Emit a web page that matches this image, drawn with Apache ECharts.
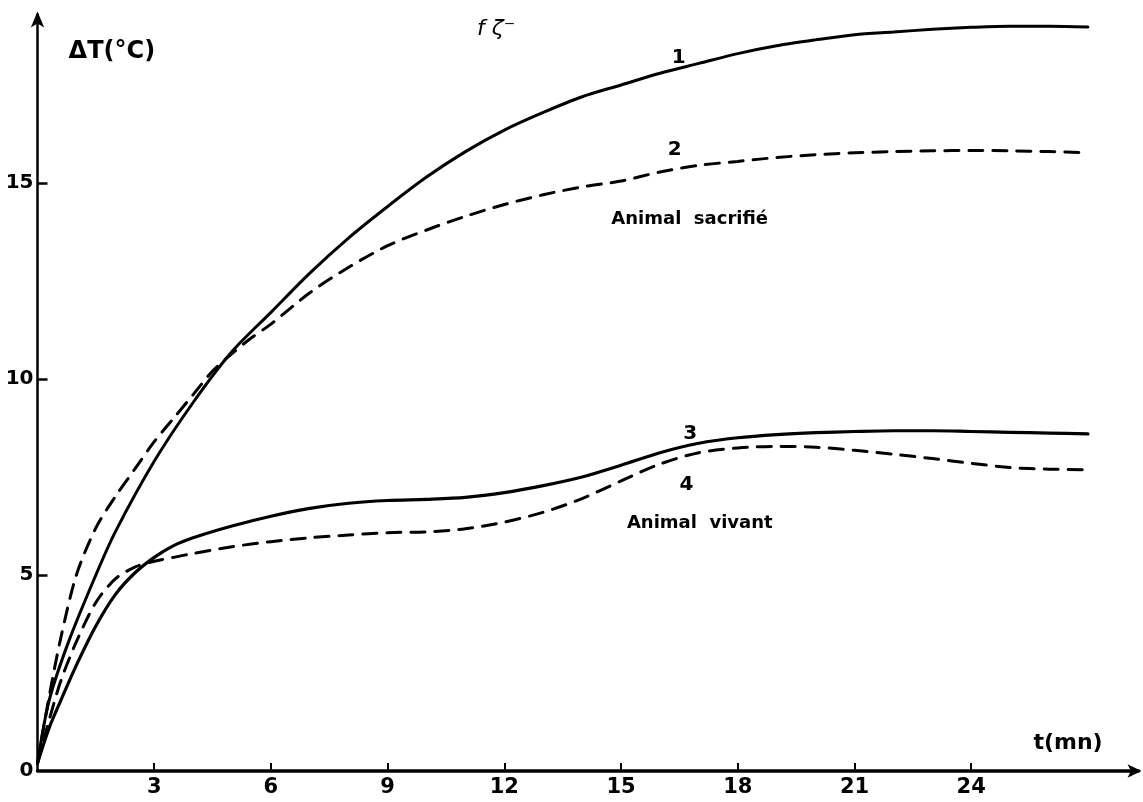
<!DOCTYPE html>
<html>
<head>
<meta charset="utf-8">
<script src="https://cdn.jsdelivr.net/npm/echarts@6/dist/echarts.min.js"></script>
<style>
html,body{margin:0;padding:0;background:#fff;}
#chart{width:1143px;height:802px;}
</style>
</head>
<body>
<div id="chart"></div>
<script>
// time (min)
const t1 = [0,0.3,0.8,1.5,2,3,4,5,6,7,8,9,10,11,12,13,14,15,16,17,18,19,20,21,22,23,24,25,26,27];
const curve1 = [0.2,1.8,3.3,5.0,6.1,7.9,9.4,10.7,11.7,12.7,13.6,14.4,15.15,15.8,16.35,16.8,17.2,17.5,17.8,18.05,18.3,18.5,18.65,18.78,18.85,18.92,18.97,19.0,19.0,18.98];

const t2 = [0,0.3,0.6,1,1.5,2,2.5,3,3.5,4,4.5,5,5.5,6,7,8,9,10,11,12,13,14,15,16,17,18,19,20,21,22,23,24,25,26,27];
const curve2 = [0.2,1.9,3.4,5.0,6.2,7.0,7.7,8.4,9.0,9.6,10.2,10.65,11.05,11.4,12.2,12.85,13.4,13.8,14.15,14.45,14.7,14.9,15.05,15.28,15.45,15.55,15.65,15.72,15.77,15.8,15.82,15.83,15.82,15.8,15.77];

const t3 = [0,0.3,0.6,1,1.5,2,2.5,3,3.5,4,5,6,7,8,9,10,11,12,13,14,15,16,17,18,19,20,21,22,23,24,25,26,27];
const curve3 = [0.2,1.1,1.8,2.7,3.7,4.5,5.05,5.45,5.75,5.95,6.25,6.5,6.7,6.83,6.9,6.93,6.98,7.1,7.28,7.5,7.8,8.12,8.36,8.5,8.58,8.63,8.66,8.68,8.68,8.66,8.64,8.62,8.6];

const t4 = [0,0.3,0.6,1,1.5,2,2.5,3,3.5,4,5,6,7,8,9,10,11,12,13,14,15,16,17,18,19,20,21,22,23,24,25,26,27];
const curve4 = [0.2,1.3,2.3,3.3,4.3,4.9,5.2,5.35,5.45,5.55,5.72,5.85,5.95,6.02,6.08,6.1,6.18,6.35,6.6,6.95,7.4,7.83,8.12,8.24,8.28,8.26,8.18,8.08,7.97,7.85,7.74,7.7,7.68];

const xTickValues = [3,6,9,12,15,18,21,24];
const yTickValues = [5,10,15];
const yLabelValues = [0,5,10,15];

function pairs(xs, ys){ return xs.map((x,i)=>[x, ys[i]]); }

const font = '"DejaVu Sans", Lato, sans-serif';
const chart = echarts.init(document.getElementById('chart'));

function lineSeries(name, xs, ys, width, dashed){
  return {
    name: name, type: 'line', data: pairs(xs, ys), smooth: 0.3,
    symbol: 'none', animation: false,
    lineStyle: {color: '#000', width: width, type: dashed ? [14, 10] : 'solid', cap: 'round'}
  };
}

chart.setOption({
  animation: false,
  backgroundColor: '#fff',
  grid: {left: 37.5, right: 4.5, top: 14.4, bottom: 31},
  xAxis: {
    type: 'value', min: 0, max: 28.3, interval: 3,
    splitLine: {show: false},
    axisLine: {lineStyle: {color: '#000', width: 3.5}, symbol: ['none', 'arrow'], symbolSize: [10, 14], symbolOffset: [0, 3]},
    axisTick: {inside: true, length: 8, lineStyle: {color: '#000', width: 2}, customValues: xTickValues},
    axisLabel: {color: '#000', fontFamily: font, fontWeight: 'bold', fontSize: 21, margin: 6, customValues: xTickValues}
  },
  yAxis: {
    type: 'value', min: 0, max: 19.3, interval: 5,
    splitLine: {show: false},
    axisLine: {lineStyle: {color: '#000', width: 2.5}, symbol: ['none', 'arrow'], symbolSize: [10, 16], symbolOffset: [0, 3]},
    axisTick: {inside: true, length: 10, lineStyle: {color: '#000', width: 2.5}, customValues: yTickValues},
    axisLabel: {color: '#000', fontFamily: font, fontWeight: 'bold', fontSize: 20, margin: 4, customValues: yLabelValues}
  },
  series: [
    lineSeries('1', t1, curve1, 3, false),
    lineSeries('2', t2, curve2, 3, true),
    lineSeries('3', t3, curve3, 3.2, false),
    lineSeries('4', t4, curve4, 3, true)
  ]
});

// annotations placed in data coordinates
const notes = [
  {text: 'ΔT(°C)', at: [0.8, 18.65], size: 24, weight: 'bold'},
  {text: 't(mn)', at: [25.6, 1.0], size: 22, weight: 'bold'},
  {text: '1', at: [16.3, 18.45], size: 20, weight: 'bold'},
  {text: '2', at: [16.2, 16.1], size: 20, weight: 'bold'},
  {text: '3', at: [16.6, 8.85], size: 20, weight: 'bold'},
  {text: '4', at: [16.5, 7.55], size: 20, weight: 'bold'},
  {text: 'Animal  sacrifié', at: [14.75, 14.3], size: 18, weight: 'bold'},
  {text: 'Animal  vivant', at: [15.15, 6.55], size: 18, weight: 'bold'},
  {text: 'f ζ⁻', at: [11.3, 19.2], size: 22, weight: 'normal', italic: true}
];
chart.setOption({
  graphic: notes.map(n => {
    const p = chart.convertToPixel({gridIndex: 0}, n.at);
    return {
      type: 'text', x: p[0], y: p[1], silent: true,
      style: {text: n.text, fill: '#000', font: (n.italic ? 'italic ' : '') + n.weight + ' ' + n.size + 'px ' + font, textVerticalAlign: 'top'}
    };
  })
});
</script>
</body>
</html>
